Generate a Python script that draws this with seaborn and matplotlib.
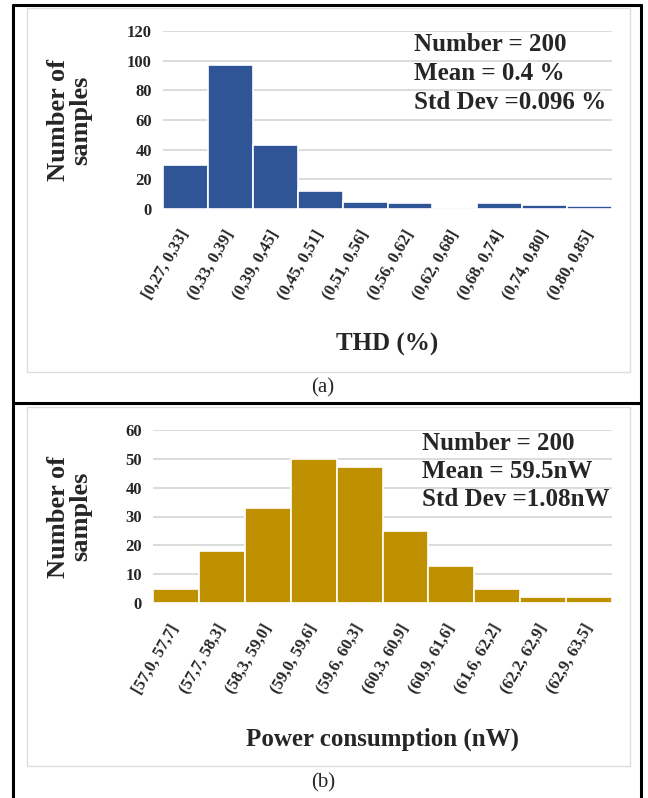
import matplotlib
matplotlib.use("Agg")
import matplotlib.pyplot as plt
import seaborn as sns
import pandas as pd
from matplotlib.lines import Line2D
from matplotlib.patches import Rectangle

# THD distribution
thd_bins = ["[0,27, 0,33]", "(0,33, 0,39]", "(0,39, 0,45]", "(0,45, 0,51]",
            "(0,51, 0,56]", "(0,56, 0,62]", "(0,62, 0,68]", "(0,68, 0,74]",
            "(0,74, 0,80]", "(0,80, 0,85]"]
thd_counts = [30, 97, 43, 12, 5, 4, 0, 4, 3, 2]
thd_stats = ["Number = 200", "Mean = 0.4 %", "Std Dev =0.096 %"]

# Power consumption distribution
pwr_bins = ["[57,0, 57,7]", "(57,7, 58,3]", "(58,3, 59,0]", "(59,0, 59,6]",
            "(59,6, 60,3]", "(60,3, 60,9]", "(60,9, 61,6]", "(61,6, 62,2]",
            "(62,2, 62,9]", "(62,9, 63,5]"]
pwr_counts = [5, 18, 33, 50, 47, 25, 13, 5, 2, 2]
pwr_stats = ["Number = 200", "Mean = 59.5nW", "Std Dev =1.08nW"]

sns.set_theme(style="white")
plt.rcParams["font.family"] = ["Liberation Serif", "DejaVu Serif"]

W, H = 648, 798
fig = plt.figure(figsize=(W / 100, H / 100), dpi=100)


def px_axes(left, right, top, bottom):
    return fig.add_axes([left / W, 1 - bottom / H, (right - left) / W, (bottom - top) / H])


def draw_panel(ax, bins, counts, color, ymax, ystep, xlabel, stats, ylab_x, stat_x):
    df = pd.DataFrame({"bin": bins, "count": counts})
    sns.barplot(data=df, x="bin", y="count", color=color, saturation=1,
                width=1.0, edgecolor="white", linewidth=1.2, ax=ax, zorder=3)
    ax.set_ylim(0, ymax)
    ax.set_xlim(-0.5, len(bins) - 0.5)
    ax.set_yticks(range(0, ymax + 1, ystep))
    ax.yaxis.grid(True, color="#D9D9D9", linewidth=1.3, zorder=0)
    ax.set_axisbelow(True)
    for s in ax.spines.values():
        s.set_visible(False)
    ax.tick_params(axis="y", length=0, pad=8, labelsize=12)
    ax.tick_params(axis="x", length=0, pad=16, labelsize=12)
    for t in ax.get_yticklabels():
        t.set_fontweight("bold")
    for t in ax.get_xticklabels():
        t.set_fontweight("bold")
        t.set_rotation(60)
        t.set_ha("right")
        t.set_va("center")
        t.set_rotation_mode("anchor")
    ax.set_xlabel(xlabel, fontsize=18, fontweight="bold", labelpad=22)
    ax.set_ylabel("Number of\nsamples", fontsize=19, fontweight="bold",
                  linespacing=0.95)
    ax.yaxis.set_label_coords(ylab_x, 0.5)
    for i, s in enumerate(stats):
        ax.text(stat_x, 0.99 - i * 0.163, s, transform=ax.transAxes,
                fontsize=18, fontweight="bold", ha="left", va="top", zorder=5)


ax1 = px_axes(163, 612, 31, 209)
draw_panel(ax1, thd_bins, thd_counts, "#2F5597", 120, 20, "THD (%)",
           thd_stats, -0.158, 0.56)

ax2 = px_axes(153, 612, 430, 603)
draw_panel(ax2, pwr_bins, pwr_counts, "#BF9000", 60, 10, "Power consumption (nW)",
           pwr_stats, -0.133, 0.585)

# light chart-area boxes
for (l, r, t, b) in [(27, 630, 8, 372), (27, 630, 407, 766)]:
    fig.add_artist(Rectangle((l / W, 1 - b / H), (r - l) / W, (b - t) / H,
                             transform=fig.transFigure, fill=False,
                             edgecolor="#DDDDDD", linewidth=1.0))

# outer black frame and divider
lw = 2.2
frame = [((13, 13), (5, 798)), ((641, 641), (5, 798)),
         ((13, 641), (5, 5)), ((13, 641), (403, 403))]
for xs, ys in frame:
    fig.add_artist(Line2D([x / W for x in xs], [1 - y / H for y in ys],
                          transform=fig.transFigure, color="black", linewidth=lw))

fig.text(323 / W, 1 - 388 / H, "(a)", ha="center", va="center", fontsize=15)
fig.text(323 / W, 1 - 783 / H, "(b)", ha="center", va="center", fontsize=15)

fig.savefig("out.png", dpi=100, facecolor="white")
